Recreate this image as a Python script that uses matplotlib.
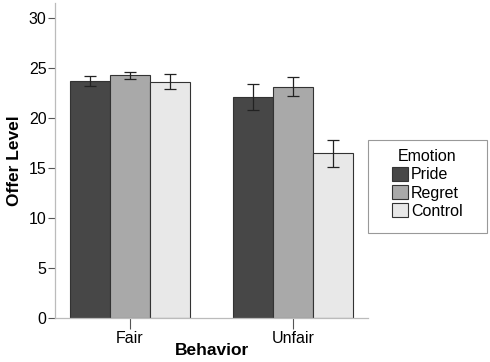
import numpy as np
import matplotlib.pyplot as plt
from matplotlib.patches import Rectangle

plt.rcParams['font.family'] = ['Liberation Sans', 'DejaVu Sans']

behaviors = ['Fair', 'Unfair']
emotions = ['Pride', 'Regret', 'Control']
means = {
    'Pride': [23.7, 22.1],
    'Regret': [24.3, 23.1],
    'Control': [23.6, 16.5],
}
err_low = {
    'Pride': [23.2, 20.8],
    'Regret': [23.9, 22.2],
    'Control': [22.9, 15.1],
}
err_high = {
    'Pride': [24.2, 23.4],
    'Regret': [24.6, 24.1],
    'Control': [24.4, 17.8],
}
colors = {'Pride': '#474747', 'Regret': '#a9a9a9', 'Control': '#e8e8e8'}

fig = plt.figure(figsize=(4.9, 3.62), dpi=100)
ax = fig.add_axes([55/490, 44/362, 313/490, 315/362])

x = np.arange(len(behaviors))
w = 0.245
for i, emo in enumerate(emotions):
    pos = x + (i - 1) * w
    m = np.array(means[emo])
    lo = m - np.array(err_low[emo])
    hi = np.array(err_high[emo]) - m
    ax.bar(pos, m, width=w, color=colors[emo], edgecolor='#333333',
           linewidth=0.8, label=emo)
    ax.errorbar(pos, m, yerr=[lo, hi], fmt='none', ecolor='#222222',
                elinewidth=0.9, capsize=4, capthick=0.9)

ax.set_xlim(-0.46, 1.46)
ax.set_ylim(0, 31.5)
ax.set_yticks([0, 5, 10, 15, 20, 25, 30])
ax.set_xticks(x)
ax.set_xticklabels(behaviors)
ax.tick_params(axis='y', length=5, width=0.8, color='#555555', labelsize=11.5, pad=1)
ax.tick_params(axis='x', length=8, width=0.8, color='#555555', labelsize=11.5, pad=1.5)
for s in ['top', 'right']:
    ax.spines[s].set_visible(False)
for s in ['left', 'bottom']:
    ax.spines[s].set_color('#bbbbbb')
    ax.spines[s].set_linewidth(0.9)

ax.set_ylabel('Offer Level', fontsize=12.5, fontweight='bold', labelpad=5)
ax.set_xlabel('Behavior', fontsize=12.5, fontweight='bold', labelpad=-2)

# legend box drawn separately so it can be wider than its content
fig.patches.append(Rectangle((368/490, 1 - 233/362), 119/490, 93/362,
                             transform=fig.transFigure, facecolor='white',
                             edgecolor='#999999', linewidth=0.8))
leg = fig.legend(title='Emotion', loc='center',
                 bbox_to_anchor=(427/490, 1 - 184/362),
                 fontsize=11.5, title_fontsize=11.5, frameon=False,
                 handlelength=1.0, handleheight=1.0, handletextpad=0.2,
                 labelspacing=0.15, borderpad=0)
leg.get_title().set_ha('center')

fig.savefig('out.png', dpi=100)
